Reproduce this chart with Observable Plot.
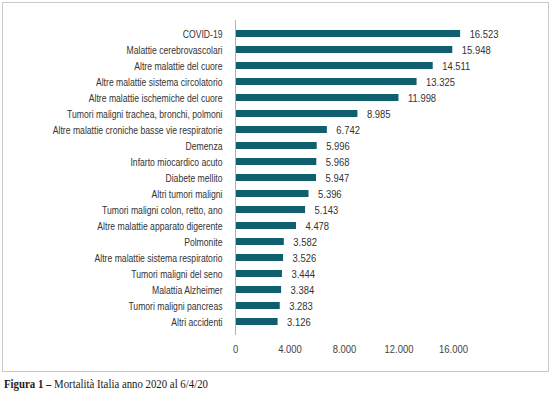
<!DOCTYPE html>
<html>
<head>
<meta charset="utf-8">
<script src="https://cdn.jsdelivr.net/npm/d3@7"></script>
<script src="https://cdn.jsdelivr.net/npm/@observablehq/plot@0.6"></script>
<style>
  html, body { margin: 0; padding: 0; background: #fff; width: 550px; height: 394px; overflow: hidden; }
  #frame { position: absolute; left: 2px; top: 2px; width: 545px; height: 368px; border: 1px solid #c9c9c9; }
  #frame svg { display: block; }
  #caption { position: absolute; left: 4px; top: 378px; line-height: 12px; font-family: "Liberation Serif", "DejaVu Serif", serif; font-size: 12px; color: #1a1a1a; white-space: nowrap; }
  #caption span { display: inline-block; transform-origin: 0 0; transform: scaleX(0.9); }
  #caption b { font-weight: bold; }
</style>
</head>
<body>
<div id="frame"></div>
<div id="caption"><span><b>Figura 1 –</b> Mortalità Italia anno 2020 al 6/4/20</span></div>
<script>
const causes = [
  "COVID-19",
  "Malattie cerebrovascolari",
  "Altre malattie del cuore",
  "Altre malattie sistema circolatorio",
  "Altre malattie ischemiche del cuore",
  "Tumori maligni trachea, bronchi, polmoni",
  "Altre malattie croniche basse vie respiratorie",
  "Demenza",
  "Infarto miocardico acuto",
  "Diabete mellito",
  "Altri tumori maligni",
  "Tumori maligni colon, retto, ano",
  "Altre malattie apparato digerente",
  "Polmonite",
  "Altre malattie sistema respiratorio",
  "Tumori maligni del seno",
  "Malattia Alzheimer",
  "Tumori maligni pancreas",
  "Altri accidenti"
];
const deaths = [16523, 15948, 14511, 13325, 11998, 8985, 6742, 5996, 5968, 5947, 5396, 5143, 4478, 3582, 3526, 3444, 3384, 3283, 3126];
const xTicks = [0, 4000, 8000, 12000, 16000];

const data = causes.map((c, i) => ({cause: c, value: deaths[i]}));
const it = d3.formatLocale({decimal: ",", thousands: ".", grouping: [3], currency: ["", "€"]});
const fmt = it.format(",d");

const font = '"Liberation Sans", Arial, sans-serif';

const chart = Plot.plot({
  width: 545,
  height: 368,
  marginLeft: 232,
  marginRight: 40.5,
  marginTop: 17,
  marginBottom: 36,
  style: {fontFamily: font, fontSize: "11.5px", color: "#333", background: "#fff"},
  x: {domain: [0, 20000], axis: null},
  y: {domain: causes, paddingInner: 0.56, paddingOuter: 0.42, axis: null},
  marks: [
    Plot.axisY({tickSize: 0, tickPadding: 13, label: null, fill: "#333"}),
    Plot.axisX({ticks: xTicks, tickSize: 0, tickPadding: 9, tickFormat: fmt, label: null, fill: "#444"}),
    Plot.barX(data, {x: "value", y: "cause", fill: "#0f5f6f"}),
    Plot.ruleX([0], {stroke: "#b0b0b0", strokeWidth: 1}),
    Plot.text(data, {x: "value", y: "cause", text: d => fmt(d.value), dx: 9, textAnchor: "start", fill: "#333"})
  ]
});
document.getElementById("frame").appendChild(chart);
// condense the sans glyphs (narrow grotesque look of the original)
chart.querySelectorAll("text").forEach(t => {
  const len = t.getComputedTextLength();
  if (len > 0) {
    const numeric = /^[0-9.]+$/.test(t.textContent.trim());
    t.setAttribute("textLength", (len * (numeric ? 0.82 : 0.75)).toFixed(2));
    t.setAttribute("lengthAdjust", "spacingAndGlyphs");
  }
});
</script>
</body>
</html>
